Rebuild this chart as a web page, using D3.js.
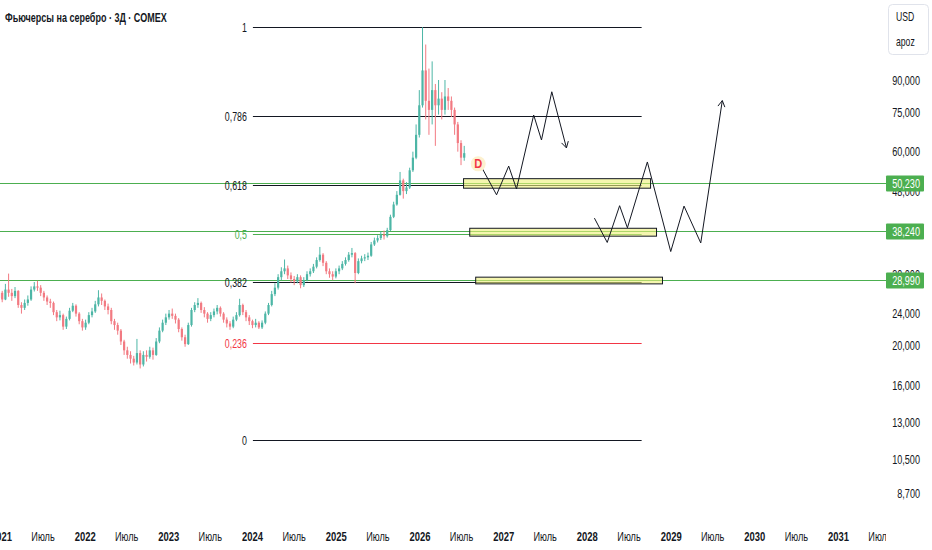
<!DOCTYPE html>
<html><head><meta charset="utf-8">
<script src="https://cdn.jsdelivr.net/npm/d3@7"></script>
<style>
body{margin:0;background:#fff;}
text{font-family:"Liberation Sans",Arial,sans-serif;}
</style></head><body>
<svg id="c" width="932" height="550"></svg>
<script>
// ---------------- DATA ----------------
const title = "Фьючерсы на серебро · 3Д · COMEX";
// candle prices in thousands of axis units
const firstOpenK = 26.2;
const closeK = [27.0,26.0,27.5,27.0,26.5,27.3,25.2,24.8,25.5,26.0,
 27.5,28.0,27.8,27.0,26.3,25.7,25.5,24.2,23.5,23.8,
 22.3,23.3,24.4,25.1,24.0,23.0,22.2,22.8,23.8,24.3,
 25.3,26.3,25.8,25.0,24.5,23.0,22.5,21.8,20.5,19.5,
 19.0,18.6,18.2,19.2,18.0,19.0,18.8,19.5,19.0,20.5,
 21.8,22.8,23.5,24.0,23.7,23.2,22.0,21.0,20.2,22.5,
 24.5,25.2,25.5,24.5,24.0,23.3,23.8,24.3,24.8,24.0,
 23.2,22.7,22.3,23.2,23.8,25.2,24.2,23.5,23.0,22.5,
 22.8,22.2,22.8,24.0,25.2,26.8,27.8,29.5,30.5,31.0,
 29.8,29.2,28.8,29.5,28.2,29.0,30.0,30.5,31.3,32.5,
 33.5,32.0,30.5,30.0,29.6,30.5,31.0,31.8,32.5,33.5,
 33.8,30.2,32.3,32.8,33.0,33.3,35.5,36.3,36.8,37.5,
 37.2,38.5,41.5,44.5,47.0,51.0,48.0,49.0,54.0,58.0,
 66.0,78.0,95.0,80.0,76.0,85.0,78.0,81.0,76.0,82.0,
 80.0,76.0,70.0,63.0,58.0,59.5];
const highK = [27.6,27.3,28.4,30.1,27.6,27.9,27.4,25.6,26.0,26.6,
 28.0,28.7,28.9,28.2,27.3,26.6,26.1,25.7,24.5,24.4,
 24.0,23.6,24.8,25.5,25.3,24.2,23.3,23.2,24.2,24.8,
 25.8,27.4,26.9,26.0,25.4,24.8,23.3,22.8,22.0,20.7,
 19.9,19.4,18.9,20.8,19.5,19.4,19.5,19.9,19.8,20.9,
 22.2,23.2,24.0,24.5,24.7,24.0,23.4,22.2,21.3,22.8,
 24.8,25.6,26.2,25.7,24.9,24.2,24.2,24.7,25.2,25.0,
 24.2,23.5,23.0,23.6,24.2,26.1,25.4,24.5,23.8,23.2,
 23.3,23.0,23.1,24.3,25.5,27.3,28.5,30.0,31.2,32.6,
 31.5,30.3,29.7,30.0,29.8,29.5,30.5,31.0,31.8,33.0,
 35.0,33.8,32.3,31.0,30.5,31.0,31.5,32.3,33.0,34.0,
 34.8,34.0,32.8,33.3,33.6,33.9,36.0,36.9,37.4,38.2,
 38.4,39.0,42.0,45.2,48.0,53.5,51.5,50.5,54.8,60.0,
 70.0,85.0,121.3,110.0,96.0,100.0,88.0,90.0,84.0,90.0,
 86.0,82.0,77.0,71.0,64.0,62.0];
const lowK = [25.9,25.6,25.9,26.4,25.8,26.2,24.8,24.0,24.5,25.1,
 25.8,27.2,27.3,26.5,25.8,25.2,24.8,23.8,23.0,23.1,
 21.9,22.0,23.1,24.2,23.6,22.6,21.8,21.9,22.6,23.5,
 24.1,25.0,25.2,24.5,23.9,22.6,21.9,21.3,20.1,19.0,
 18.6,18.1,17.9,18.0,17.6,17.8,18.3,18.6,18.5,18.9,
 20.3,21.6,22.5,23.2,23.3,22.7,21.6,20.6,19.9,20.1,
 22.3,24.2,24.8,24.1,23.5,22.8,23.0,23.5,23.9,23.6,
 22.8,22.2,21.9,22.1,23.0,23.6,23.8,23.0,22.5,22.1,
 22.2,22.0,22.0,22.6,23.8,25.0,26.5,27.5,29.0,30.0,
 29.2,28.6,28.2,28.5,27.7,27.9,28.8,29.6,30.2,31.0,
 32.2,31.4,30.0,29.4,29.0,29.3,30.0,30.7,31.5,32.2,
 33.0,28.5,30.0,31.9,32.3,32.5,33.1,35.2,35.9,36.4,
 36.5,36.9,38.3,41.2,44.2,46.8,46.0,47.2,48.6,53.5,
 57.5,65.0,77.0,72.0,66.0,70.0,62.0,74.0,72.0,74.0,
 76.0,73.0,66.0,60.0,55.6,57.0];
const candleStart = "2020-12-21";
const candleStepDays = 14;

const yTickK = [90,75,60,48,38,30,24,20,16,13,10.5,8.7];
const xYears = [2021,2022,2023,2024,2025,2026,2027,2028,2029,2030,2031];
const midYearLabel = "Июль";

const fibLevels = [1,0.786,0.618,0.5,0.382,0.236,0];
const fibLabels = ["1","0,786","0,618","0,5","0,382","0,236","0"];
const fibHighK = 121.3, fibLowK = 11.74;
const fibStart = "2024-01-03", fibEnd = "2028-08-25";

const levelK = [50.23, 38.24, 28.99];
const levelLabels = ["50,230","38,240","28,990"];

const zoneStart = ["2026-07-10","2026-08-06","2026-09-01"];
const zoneEnd = ["2028-10-03","2028-10-29","2028-11-24"];
const zoneTopK = [51.5, 38.9, 29.5];
const zoneBottomK = [48.8, 37.2, 28.4];

const pathADates = ["2026-10-01","2026-12-01","2027-01-23","2027-02-26","2027-05-12","2027-06-15","2027-07-30","2027-10-02"];
const pathAK = [54.4,47.0,55.3,48.6,73.8,64.1,84.2,61.3];
const pathBDates = ["2028-02-01","2028-03-28","2028-05-21","2028-06-24","2028-09-19","2028-12-30","2029-02-26","2029-05-10","2029-08-12"];
const pathBK = [41.2,35.9,44.2,39.0,56.6,34.1,44.1,35.8,80.1];

const markerDate = "2026-09-12", markerK = 56.0, markerLabel = "D";
const currency = "USD", unitLabel = "apoz";

// ---------------- CHART ----------------
const W = 932, H = 550, plotRight = 886;
const svg = d3.select("#c");
svg.append("rect").attr("width",W).attr("height",H).attr("fill","#fff");
const pd = d3.utcParse("%Y-%m-%d");
const x = d3.scaleUtc().domain([pd("2021-01-01"), pd("2031-01-01")]).range([1.5, 838.5]);
const y = d3.scaleLog().domain([8.7, 90]).range([493, 80]);

// condensed text helper
function ntext(parent, tx, ty, str, opts){
  opts = opts || {};
  const g = parent.append("g").attr("transform",`translate(${tx},${ty}) scale(${opts.sx||0.7},1)`);
  return g.append("text").attr("x",0).attr("y",0).attr("dy",opts.dy||"0.35em")
    .attr("text-anchor",opts.anchor||"start").attr("font-size",opts.size||13)
    .attr("font-weight",opts.weight||"normal").attr("fill",opts.fill||"#131722").text(str);
}

svg.append("defs").append("clipPath").attr("id","plot").append("rect")
  .attr("x",0).attr("y",0).attr("width",plotRight).attr("height",H);
const plot = svg.append("g").attr("clip-path","url(#plot)");

// full width price lines
levelK.forEach(v=>{
  const yy = Math.round(y(v))+0.5;
  plot.append("line").attr("x1",0).attr("x2",plotRight).attr("y1",yy).attr("y2",yy)
    .attr("stroke","#4caf50").attr("stroke-width",1);
});

// fib
const lnH = Math.log(fibHighK), lnL = Math.log(fibLowK);
const fibColor = {0.5:"#4caf50", 0.236:"#f23645"};
fibLevels.forEach((f,i)=>{
  const v = Math.exp(lnL + f*(lnH-lnL));
  const yy = Math.round(y(v))+0.5;
  const c = fibColor[f] || "#131722";
  plot.append("line").attr("x1",x(pd(fibStart))).attr("x2",x(pd(fibEnd))).attr("y1",yy).attr("y2",yy)
    .attr("stroke",c).attr("stroke-width",1);
  ntext(plot, x(pd(fibStart))-6, yy, fibLabels[i], {anchor:"end", fill:c, size:13, sx:0.68});
});

// candles
const t0 = pd(candleStart);
const cw = 2.2;
closeK.forEach((c,i)=>{
  const o = i===0 ? firstOpenK : closeK[i-1];
  const d = d3.utcDay.offset(t0, i*candleStepDays);
  const cx = x(d);
  const up = c >= o;
  const col = up ? "#4db6a6" : "#f27a82";
  plot.append("line").attr("x1",cx).attr("x2",cx).attr("y1",y(highK[i])).attr("y2",y(lowK[i]))
    .attr("stroke",col).attr("stroke-width",1);
  const yt = y(Math.max(o,c)), yb = y(Math.min(o,c));
  plot.append("rect").attr("x",cx-cw/2).attr("y",yt).attr("width",cw).attr("height",Math.max(1,yb-yt)).attr("fill",col);
});

// zones
zoneStart.forEach((s,i)=>{
  const x0 = x(pd(s)), x1 = x(pd(zoneEnd[i]));
  const y0 = y(zoneTopK[i]), y1 = y(zoneBottomK[i]);
  plot.append("rect").attr("x",x0).attr("y",y0).attr("width",x1-x0).attr("height",y1-y0)
    .attr("fill","#eef07a").attr("fill-opacity",0.6).attr("stroke","#131722").attr("stroke-width",1);
});

// projection paths
const line = d3.line().x(d=>d[0]).y(d=>d[1]);
function drawPath(dates, vals){
  const pts = dates.map((d,i)=>[x(pd(d)), y(vals[i])]);
  plot.append("path").attr("d",line(pts)).attr("fill","none").attr("stroke","#131722").attr("stroke-width",1);
  const a = pts[pts.length-2], b = pts[pts.length-1];
  const ang = Math.atan2(b[1]-a[1], b[0]-a[0]);
  const L = 7, sp = Math.PI/6;
  const p1 = [b[0]-L*Math.cos(ang-sp), b[1]-L*Math.sin(ang-sp)];
  const p2 = [b[0]-L*Math.cos(ang+sp), b[1]-L*Math.sin(ang+sp)];
  plot.append("path").attr("d",line([p1,b,p2])).attr("fill","none").attr("stroke","#131722").attr("stroke-width",1);
}
drawPath(pathADates, pathAK);
drawPath(pathBDates, pathBK);

// marker D
const mx = x(pd(markerDate)), my = y(markerK);
plot.append("circle").attr("cx",mx).attr("cy",my).attr("r",7.5).attr("fill","#fdf1cf");
ntext(plot, mx, my, markerLabel, {anchor:"middle", size:13, weight:"bold", fill:"#f23645", sx:0.85});

// x axis labels
const xg = svg.append("g").attr("clip-path","url(#plot)");
xYears.forEach(yr=>{
  ntext(xg, x(pd(yr+"-01-01")), 536, String(yr), {anchor:"middle", size:13.5, weight:"bold", sx:0.7});
  ntext(xg, x(pd(yr+"-07-01")), 536, midYearLabel, {anchor:"middle", size:13.5, sx:0.68});
});

// y axis labels
yTickK.forEach(v=>{
  ntext(svg, 920, y(v), d3.format(",")(Math.round(v*1000)), {anchor:"end", size:13, sx:0.7});
});
// badges
levelK.forEach((v,i)=>{
  const yy = Math.round(y(v))+0.5;
  svg.append("rect").attr("x",886).attr("y",yy-8).attr("width",38).attr("height",16).attr("rx",1).attr("fill","#4caf50");
  ntext(svg, 920, yy, levelLabels[i], {anchor:"end", size:13, fill:"#fff", sx:0.7});
});

// currency box
svg.append("rect").attr("x",888.5).attr("y",4.5).attr("width",40).attr("height",50).attr("rx",4)
  .attr("fill","#fff").attr("stroke","#e0e3eb");
ntext(svg, 896, 17, currency, {size:12, sx:0.72});
ntext(svg, 896, 42, unitLabel, {size:12, sx:0.72});

// title, condensed to the reference width
const tt = ntext(svg, 5, 17, title, {size:13.5, weight:"bold", sx:1});
const tl = tt.node().getComputedTextLength();
d3.select(tt.node().parentNode).attr("transform",`translate(5,17) scale(${162/tl},1)`);
</script></body></html>
